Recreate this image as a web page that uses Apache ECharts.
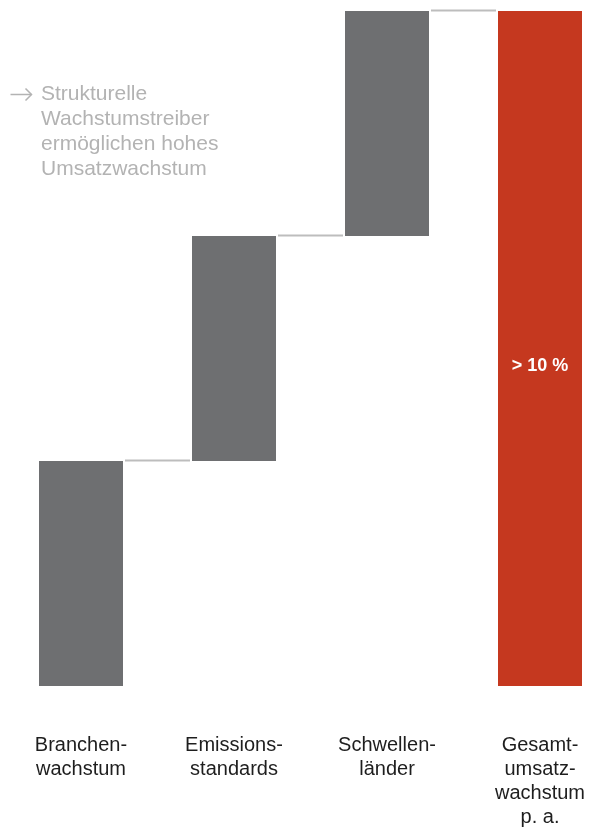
<!DOCTYPE html>
<html lang="de">
<head>
    <meta charset="UTF-8">
    <title>Wachstumstreiber</title>
    <script src="https://cdn.jsdelivr.net/npm/echarts@6/dist/echarts.min.js"></script>
    <style>
        html, body { margin: 0; padding: 0; background: #fff; }
        #main { width: 591px; height: 829px; }
    </style>
</head>
<body>
<div id="main"></div>
<script>
    // Daten
    var categories = ['Branchen-\nwachstum', 'Emissions-\nstandards', 'Schwellen-\nländer', 'Gesamt-\numsatz-\nwachstum\np. a.'];
    var baseValues = [0, 1, 2, 0];      // unsichtbarer Sockel
    var stepValues = [1, 1, 1, 3];      // sichtbarer Balken
    var totalLabel = '> 10 %';
    var noteText = 'Strukturelle\nWachstumstreiber\nermöglichen hohes\nUmsatzwachstum';

    var grey = '#6e6f71';
    var red = '#c5381f';
    var noteGrey = '#b3b3b3';
    var barW = 84;

    // Verbindungslinien: Index + kumulierter Wert am oberen Balkenende
    var connectors = [];
    for (var i = 0; i < 3; i++) {
        connectors.push([i, baseValues[i] + stepValues[i]]);
    }

    var myChart = echarts.init(document.getElementById('main'));

    var option = {
        animation: false,
        // Kategorien auf den Ticks (boundaryGap false), Abstand 153px
        grid: { left: 81, right: 51, top: 11, bottom: 143 },
        xAxis: {
            type: 'category',
            boundaryGap: false,
            data: categories,
            axisLine: { show: false },
            axisTick: { show: false },
            splitLine: { show: false },
            axisLabel: {
                margin: 47,
                color: '#1e1e1e',
                fontFamily: 'Liberation Sans',
                fontSize: 20,
                lineHeight: 24,
                align: 'center',
                verticalAlign: 'top'
            }
        },
        yAxis: {
            type: 'value',
            min: 0,
            max: 3,
            show: false,
            splitLine: { show: false }
        },
        graphic: [{
            // Pfeil vor dem Hinweistext
            type: 'group',
            left: 8,
            top: 86,
            children: [{
                type: 'polyline',
                shape: { points: [[0, 6], [21, 6]] },
                style: { stroke: noteGrey, lineWidth: 1.5, fill: null }
            }, {
                type: 'polyline',
                shape: { points: [[15, 0], [21, 6], [15, 12]] },
                style: { stroke: noteGrey, lineWidth: 1.5, fill: null }
            }]
        }, {
            type: 'text',
            left: 41,
            top: 82,
            style: {
                text: noteText,
                fontSize: 21,
                lineHeight: 25,
                fontFamily: 'Liberation Sans',
                fill: noteGrey
            }
        }],
        series: [{
            type: 'bar',
            stack: 'w',
            barWidth: barW,
            clip: false,
            itemStyle: { color: 'transparent' },
            data: baseValues
        }, {
            type: 'bar',
            stack: 'w',
            barWidth: barW,
            clip: false,
            data: stepValues.map(function (v, idx) {
                var item = { value: v, itemStyle: { color: idx === 3 ? red : grey } };
                if (idx === 3) {
                    item.label = {
                        show: true,
                        position: 'inside',
                        offset: [0, 18],
                        formatter: totalLabel,
                        color: '#fff',
                        fontFamily: 'Liberation Sans',
                        fontWeight: 'bold',
                        fontSize: 18
                    };
                }
                return item;
            })
        }, {
            type: 'custom',
            clip: false,
            data: connectors,
            renderItem: function (params, api) {
                var p = api.coord([api.value(0), api.value(1)]);
                var band = api.size([1, 0])[0];
                var y = Math.round(p[1]) - 0.5;
                return {
                    type: 'line',
                    shape: {
                        x1: p[0] + barW / 2 + 2,
                        y1: y,
                        x2: p[0] + band - barW / 2 - 2,
                        y2: y
                    },
                    style: { stroke: '#bdbdbd', lineWidth: 2 }
                };
            }
        }]
    };

    myChart.setOption(option);
</script>
</body>
</html>
